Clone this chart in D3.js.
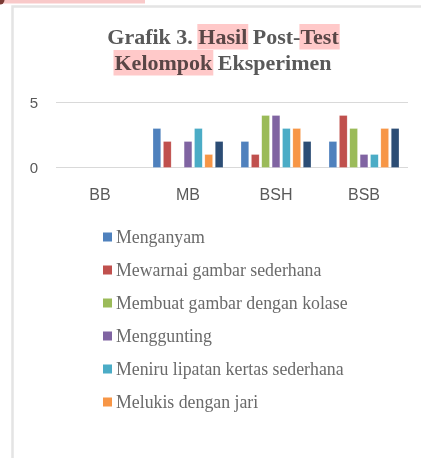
<!DOCTYPE html>
<html lang="en">
<head>
<meta charset="utf-8" />
<title>Grafik 3</title>
<script src="https://d3js.org/d3.v7.min.js"></script>
<style>
  body { margin: 0; background: #fff; }
  svg { display: block; }
</style>
</head>
<body>
<svg id="chart" width="421" height="458"></svg>
<script>
// data
const categories = ["BB", "MB", "BSH", "BSB"];
const seriesNames = [
  "Menganyam",
  "Mewarnai gambar sederhana",
  "Membuat gambar dengan kolase",
  "Menggunting",
  "Meniru lipatan kertas sederhana",
  "Melukis dengan jari",
  "Seri 7"
];
const seriesColors = ["#4F81BD", "#C0504D", "#9BBB59", "#8064A2", "#4BACC6", "#F79646", "#2C4D75"];
// values per series, in order BB, MB, BSH, BSB
const menganyam   = [0, 3, 2, 2];
const mewarnai    = [0, 2, 1, 4];
const kolase      = [0, 0, 4, 3];
const menggunting = [0, 2, 4, 1];
const meniru      = [0, 3, 3, 1];
const melukis     = [0, 1, 3, 3];
const seri7       = [0, 2, 2, 3];
const yTicks = [0, 5];
const legendShown = 6; // legend is cut off after six entries

const values = [menganyam, mewarnai, kolase, menggunting, meniru, melukis, seri7];

const svg = d3.select("#chart");

// top strip left over from the page above
svg.append("rect").attr("x", 0).attr("y", 0).attr("width", 145).attr("height", 3.5).attr("fill", "#f9c9c9");
svg.append("circle").attr("cx", 0).attr("cy", 0).attr("r", 4.5).attr("fill", "#7a3b35");

// chart frame
svg.append("path")
  .attr("d", "M12.5,458 V6.5 H421")
  .attr("fill", "none")
  .attr("stroke", "#e4e4e4")
  .attr("stroke-width", 2.5);

// title with highlighted words
const titleLines = [
  [["Grafik 3. ", false], ["Hasil", true], [" Post-", false], ["Test", true]],
  [["Kelompok", true], [" Eksperimen", false]]
];
const titleG = svg.append("g");
titleLines.forEach((parts, li) => {
  const t = titleG.append("text")
    .attr("x", 223)
    .attr("y", 44 + li * 26)
    .attr("text-anchor", "middle")
    .attr("font-family", "'Liberation Serif', 'Times New Roman', serif")
    .attr("font-weight", "bold")
    .attr("font-size", 22)
    .attr("fill", "#595959");
  t.selectAll("tspan").data(parts).join("tspan").text(d => d[0]);
  // draw pink boxes over the highlighted words
  const node = t.node();
  let idx = 0;
  parts.forEach(p => {
    if (p[1]) {
      const start = node.getStartPositionOfChar(idx).x;
      const w = node.getSubStringLength(idx, p[0].length);
      titleG.append("rect")
        .attr("x", start - 1)
        .attr("y", 24 + li * 26)
        .attr("width", w + 2)
        .attr("height", 25.5)
        .attr("fill", "#ffc9c9")
        .style("mix-blend-mode", "multiply");
    }
    idx += p[0].length;
  });
});

// plot area
const x0 = d3.scaleBand().domain(categories).range([56, 408]);
const x1 = d3.scaleBand().domain(seriesNames).range([9, 79]).paddingInner(0.25);
const y = d3.scaleLinear().domain([0, 5]).range([167.5, 102.5]);

svg.append("g")
  .selectAll("line")
  .data(yTicks)
  .join("line")
  .attr("x1", 56).attr("x2", 408)
  .attr("y1", d => y(d)).attr("y2", d => y(d))
  .attr("stroke", "#d9d9d9")
  .attr("stroke-width", 1);

svg.append("g")
  .selectAll("text")
  .data(yTicks)
  .join("text")
  .attr("x", 38)
  .attr("y", d => y(d) + 5)
  .attr("text-anchor", "end")
  .attr("font-family", "'Liberation Sans', Arial, sans-serif")
  .attr("font-size", 15)
  .attr("fill", "#595959")
  .text(d => d);

const groups = svg.append("g")
  .selectAll("g")
  .data(categories)
  .join("g")
  .attr("transform", d => "translate(" + x0(d) + ",0)");

groups.selectAll("rect")
  .data((c, ci) => seriesNames.map((s, si) => ({ s: s, si: si, v: values[si][ci] })))
  .join("rect")
  .attr("x", d => x1(d.s))
  .attr("width", x1.bandwidth())
  .attr("y", d => y(d.v))
  .attr("height", d => y(0) - y(d.v))
  .attr("fill", d => seriesColors[d.si])
  .attr("stroke", "#ffffff")
  .attr("stroke-opacity", 0.5)
  .attr("stroke-width", 0.5);

svg.append("g")
  .selectAll("text")
  .data(categories)
  .join("text")
  .attr("x", d => x0(d) + x0.bandwidth() / 2)
  .attr("y", 200)
  .attr("text-anchor", "middle")
  .attr("font-family", "'Liberation Sans', Arial, sans-serif")
  .attr("font-size", 16)
  .attr("fill", "#595959")
  .text(d => d);

// legend
const legend = svg.append("g")
  .selectAll("g")
  .data(seriesNames.slice(0, legendShown))
  .join("g")
  .attr("transform", (d, i) => "translate(103," + (237 + i * 33) + ")");

legend.append("rect")
  .attr("x", 0).attr("y", -4.5)
  .attr("width", 9).attr("height", 9)
  .attr("fill", (d, i) => seriesColors[i]);

legend.append("text")
  .attr("x", 13)
  .attr("y", 5.5)
  .attr("font-family", "'Liberation Serif', 'Times New Roman', serif")
  .attr("font-size", 17.8)
  .attr("fill", "#6a6a6a")
  .text(d => d);
</script>
</body>
</html>
